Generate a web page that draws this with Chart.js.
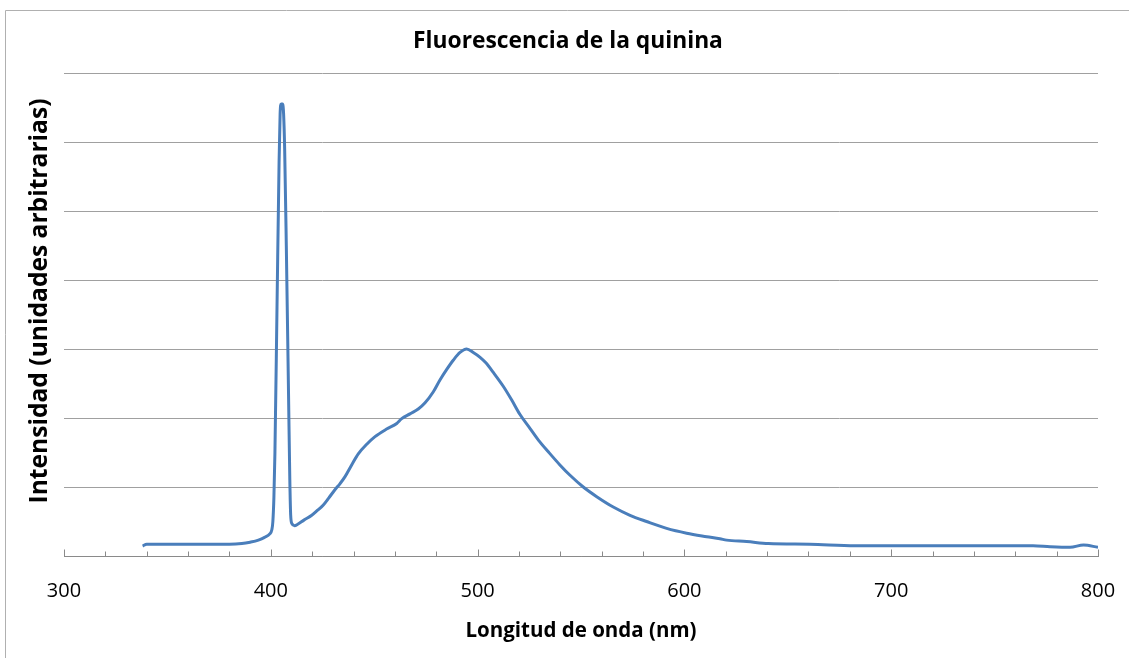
<!DOCTYPE html>
<html>
<head>
<meta charset="utf-8">
<script src="https://cdn.jsdelivr.net/npm/chart.js@4"></script>
<style>
  html, body { margin: 0; padding: 0; background: #fff; }
  #wrap { width: 1129px; height: 658px; }
</style>
</head>
<body>
<div id="wrap"><canvas id="myViz" width="1129" height="658"></canvas></div>
<script>
// wavelength (nm) and intensity (arbitrary units, 1 = one gridline step)
const waveNm = [
  338, 340, 350, 360, 370, 380, 386, 390, 394, 397, 399.5, 400.5,
  401, 401.5, 402, 403, 404, 404.5, 405, 405.7, 406.2, 406.7, 407.5, 408.5,
  409.2, 409.6, 410.2, 411.5, 413, 416, 419.8, 422.5, 425.4, 428, 431, 433.5,
  435.9, 439.1, 442.3, 446.4, 450.4, 456, 460.9, 463.3, 467.3, 471.3, 474.6, 478.6,
  481.8, 485, 488.3, 491.5, 494.7, 497.9, 501.2, 504, 507.6, 512.4, 516.5, 520.5,
  525.3, 529.4, 534.2, 539.8, 544.7, 551.1, 557.6, 565.6, 573.7, 581.7, 591.4, 601.1,
  610.8, 617.2, 620.4, 630.1, 640.6, 660.7, 682.5, 704.3, 736.5, 768.6, 776.8, 786.5,
  793, 800
];
const intensity = [
  0.145, 0.17, 0.17, 0.17, 0.17, 0.17, 0.18, 0.20, 0.23, 0.27, 0.32, 0.38,
  0.5, 0.85, 1.5, 3.6, 5.7, 6.4, 6.55, 6.55, 6.4, 5.9, 4.5, 2.5,
  1.1, 0.6, 0.47, 0.44, 0.46, 0.52, 0.59, 0.66, 0.74, 0.84, 0.96, 1.05,
  1.15, 1.32, 1.48, 1.62, 1.73, 1.84, 1.92, 1.99, 2.06, 2.13, 2.22, 2.38,
  2.55, 2.70, 2.84, 2.95, 3.0, 2.95, 2.88, 2.80, 2.66, 2.46, 2.26, 2.05,
  1.85, 1.68, 1.51, 1.32, 1.17, 1.00, 0.86, 0.71, 0.59, 0.50, 0.40, 0.33,
  0.28, 0.25, 0.23, 0.21, 0.18, 0.17, 0.15, 0.15, 0.15, 0.15, 0.135, 0.126,
  0.16, 0.126
];
const xMin = 300, xMax = 800, xMinorStep = 20, xMajorStep = 100;
const yMin = 0, yMax = 7, yStep = 1;

const titleText = 'Fluorescencia de la quinina';
const xTitleText = 'Longitud de onda (nm)';
const yTitleText = 'Intensidad (unidades arbitrarias)';

const FONT = '"Open Sans", sans-serif';
const GRID = '#a0a0a0';

// outer frame of the chart object (cropped at right / bottom)
const framePlugin = {
  id: 'frame',
  beforeDraw(chart) {
    const ctx = chart.ctx;
    ctx.save();
    ctx.fillStyle = '#fff';
    ctx.fillRect(0, 0, chart.width, chart.height);
    ctx.strokeStyle = '#b0b0b0';
    ctx.lineWidth = 1;
    ctx.beginPath();
    ctx.moveTo(5.5, chart.height);
    ctx.lineTo(5.5, 10.5);
    ctx.lineTo(chart.width, 10.5);
    ctx.stroke();
    ctx.restore();
  }
};

// tick marks drawn inside the plot, above the x axis line
const insideTicksPlugin = {
  id: 'insideTicks',
  afterDraw(chart) {
    const xs = chart.scales.x;
    const bottom = Math.round(chart.chartArea.bottom) + 0.5;
    const ctx = chart.ctx;
    ctx.save();
    ctx.strokeStyle = '#8a8a8a';
    ctx.lineWidth = 1;
    for (let v = xMin; v <= xMax; v += xMinorStep) {
      const px = Math.round(xs.getPixelForValue(v)) + 0.5;
      const len = v % xMajorStep === 0 ? 7 : 5;
      ctx.beginPath();
      ctx.moveTo(px, bottom);
      ctx.lineTo(px, bottom - len);
      ctx.stroke();
    }
    ctx.restore();
  }
};

// chart title and vertical y title, placed like the original
const titlesPlugin = {
  id: 'titles',
  afterDraw(chart) {
    const ctx = chart.ctx;
    ctx.save();
    ctx.fillStyle = '#000';
    ctx.textAlign = 'center';
    ctx.textBaseline = 'middle';
    ctx.font = 'bold 22.8px ' + FONT;
    ctx.fillText(titleText, 568, 42);
    ctx.translate(40, 301);
    ctx.rotate(-Math.PI / 2);
    ctx.font = 'bold 24.6px ' + FONT;
    ctx.fillText(yTitleText, 0, 0);
    ctx.restore();
  }
};

const config = {
  type: 'line',
  data: {
    datasets: [{
      data: waveNm.map((x, i) => ({ x: x, y: intensity[i] })),
      borderColor: '#4A7EBB',
      borderWidth: 3,
      pointRadius: 0,
      fill: false,
      cubicInterpolationMode: 'monotone',
    }],
  },
  plugins: [framePlugin, insideTicksPlugin, titlesPlugin],
  options: {
    responsive: false,
    animation: false,
    layout: { padding: { left: 0, right: 31, top: 73, bottom: 0 } },
    plugins: {
      legend: { display: false },
      tooltip: { enabled: false },
      title: { display: false },
    },
    scales: {
      x: {
        type: 'linear',
        min: xMin,
        max: xMax,
        grid: { display: false, drawTicks: false },
        border: { display: true, color: '#8a8a8a', width: 1 },
        ticks: {
          stepSize: xMinorStep,
          autoSkip: false,
          maxRotation: 0,
          padding: 23,
          color: '#000',
          font: { family: FONT, size: 20 },
          callback: (v) => (v % xMajorStep === 0 ? String(v) : ''),
        },
        title: {
          display: true,
          text: xTitleText,
          color: '#000',
          font: { family: FONT, size: 20.5, weight: 'bold', lineHeight: 1.2 },
          padding: { top: 0, bottom: 14.8 },
        },
        afterFit: (scale) => {
          scale.height = 102;
          scale.paddingLeft = 0;
          scale.paddingRight = 0;
        },
      },
      y: {
        min: yMin,
        max: yMax,
        grid: { color: GRID, drawTicks: false },
        border: { display: false },
        ticks: { display: false, stepSize: yStep },
        afterFit: (scale) => { scale.width = 64; },
      },
    },
  },
};

new Chart(document.getElementById('myViz').getContext('2d'), config);
</script>
</body>
</html>
